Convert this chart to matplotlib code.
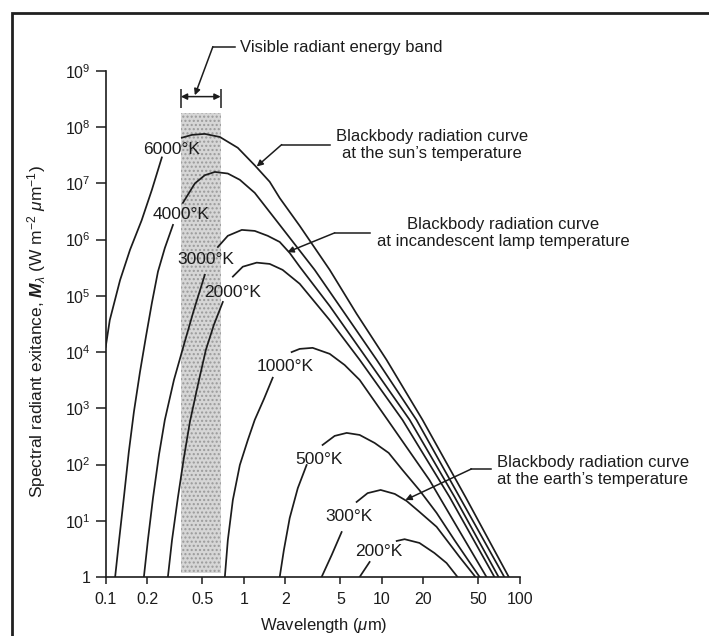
import matplotlib
matplotlib.use("Agg")
import matplotlib.pyplot as plt
from matplotlib.patches import Rectangle
from matplotlib.ticker import NullLocator

plt.rcParams['font.family'] = ['Liberation Sans', 'DejaVu Sans']
plt.rcParams['mathtext.fontset'] = 'custom'
plt.rcParams['mathtext.rm'] = 'Liberation Sans'
plt.rcParams['mathtext.it'] = 'Liberation Sans:italic'
plt.rcParams['mathtext.bf'] = 'Liberation Sans:bold'
plt.rcParams['mathtext.bfit'] = 'Liberation Sans:italic:bold'

# curves (wavelength in um, exitance in W m-2 um-1)
# each curve is split in two where its temperature label cuts it
wl_6000_a = [0.100, 0.107, 0.127, 0.150, 0.182, 0.216, 0.255]
m_6000_a = [1.24e4, 3.7e4, 1.9e5, 6.6e5, 2.2e6, 7.7e6, 2.9e7]
wl_6000_b = [0.356, 0.421, 0.522, 0.671, 0.905, 1.20, 1.54, 1.82, 2.54, 4.19, 6.56, 10.8, 19.7, 40.3, 83.0]
m_6000_b = [6.5e7, 7.3e7, 7.6e7, 6.7e7, 4.3e7, 2.1e7, 1.07e7, 5.5e6, 1.76e6, 2.9e5, 4.8e4, 7.3e3, 622, 26.5, 1]

wl_4000_a = [0.117, 0.125, 0.136, 0.147, 0.160, 0.177, 0.196, 0.216, 0.239, 0.268, 0.307]
m_4000_a = [1, 4.5, 28.8, 168, 863, 4.4e3, 1.94e4, 7.5e4, 2.7e5, 7.1e5, 1.83e6]
wl_4000_b = [0.362, 0.442, 0.522, 0.617, 0.766, 0.936, 1.20, 1.82, 3.26, 5.47, 9.16, 17.8, 36.5, 77.0]
m_4000_b = [4.5e6, 1.0e7, 1.4e7, 1.6e7, 1.5e7, 1.16e7, 6.8e6, 1.83e6, 2.9e5, 4.6e4, 7.3e3, 622, 26.5, 1]

wl_3000_a = [0.189, 0.202, 0.220, 0.243, 0.268, 0.312, 0.368, 0.435, 0.522]
m_3000_a = [1, 4.5, 25.5, 148, 622, 3.2e3, 1.34e4, 5.6e4, 2.37e5]
wl_3000_b = [0.649, 0.766, 0.967, 1.20, 1.49, 1.82, 2.15, 2.54, 4.19, 7.88, 15.9, 33.6, 70.0]
m_3000_b = [7.4e5, 1.17e6, 1.49e6, 1.43e6, 1.17e6, 9.1e5, 5.8e5, 3.3e5, 6.6e4, 7.3e3, 622, 26.5, 1]

wl_2000_a = [0.282, 0.302, 0.333, 0.368, 0.407, 0.465, 0.531, 0.607, 0.705]
m_2000_a = [1, 4.5, 25.5, 131, 573, 2.6e3, 1.09e4, 3.05e4, 7.8e4]
wl_2000_b = [0.833, 0.983, 1.24, 1.54, 1.91, 2.54, 4.19, 6.90, 14.1, 30.9, 65.3]
m_2000_b = [2.2e5, 3.3e5, 3.9e5, 3.7e5, 2.9e5, 1.64e5, 3.7e4, 7.3e3, 622, 26.5, 1]

wl_1000_a = [0.729, 0.766, 0.833, 0.936, 1.07, 1.20, 1.40, 1.62]
m_1000_a = [1, 4.5, 23.4, 98, 274, 622, 1.47e3, 3.5e3]
wl_1000_b = [2.22, 2.54, 3.15, 4.19, 5.37, 6.90, 11.0, 22.1, 57.2]
m_1000_b = [1.0e4, 1.14e4, 1.19e4, 9.3e3, 5.9e3, 3.2e3, 622, 53, 1]

wl_500_a = [1.82, 1.95, 2.15, 2.46, 2.85]
m_500_a = [1, 3.0, 11.2, 38, 98]
wl_500_b = [3.72, 4.55, 5.56, 6.90, 8.86, 11.2, 14.1, 18.7, 24.9, 33.6, 51.0]
m_500_b = [223, 323, 365, 336, 242, 161, 80, 35, 13.8, 4.5, 1]

wl_300_a = [3.66, 4.33, 5.11]
m_300_a = [1, 2.46, 6.3]
wl_300_b = [6.56, 7.88, 9.79, 12.4, 15.1, 18.7, 24.9, 36.5, 47.6]
m_300_b = [21.6, 31, 35.3, 30, 22.5, 14.4, 7.8, 2.27, 1]

wl_200_a = [6.90, 8.15]
m_200_a = [1, 1.85]
wl_200_b = [12.8, 14.6, 18.7, 24.0, 29.4, 35.3]
m_200_b = [4.37, 4.7, 4.03, 2.67, 1.77, 1]

segments = [
    (wl_6000_a, m_6000_a), (wl_6000_b, m_6000_b),
    (wl_4000_a, m_4000_a), (wl_4000_b, m_4000_b),
    (wl_3000_a, m_3000_a), (wl_3000_b, m_3000_b),
    (wl_2000_a, m_2000_a), (wl_2000_b, m_2000_b),
    (wl_1000_a, m_1000_a), (wl_1000_b, m_1000_b),
    (wl_500_a, m_500_a), (wl_500_b, m_500_b),
    (wl_300_a, m_300_a), (wl_300_b, m_300_b),
    (wl_200_a, m_200_a), (wl_200_b, m_200_b),
]

temp_labels = ["6000°K", "4000°K", "3000°K", "2000°K", "1000°K", "500°K", "300°K", "200°K"]
label_wl = [0.302, 0.35, 0.531, 0.833, 1.98, 3.49, 5.74, 9.46]
label_m = [3.96e7, 2.76e6, 4.37e5, 1.13e5, 5.45e3, 121, 11.7, 2.79]

# visible band
band_wl = [0.35, 0.68]
band_lo = 1.17
band_hi = 1.8e8

x_ticks = [0.1, 0.2, 0.5, 1, 2, 5, 10, 20, 50, 100]
x_tick_labels = ["0.1", "0.2", "0.5", "1", "2", "5", "10", "20", "50", "100"]
y_ticks = [1, 1e1, 1e2, 1e3, 1e4, 1e5, 1e6, 1e7, 1e8, 1e9]
y_tick_labels = ["1"] + [r"$10^{%d}$" % k for k in range(1, 10)]

ink = "#1c1c1c"

fig = plt.figure(figsize=(7.09, 6.36), dpi=100)
ax = fig.add_axes([0.1491, 0.0928, 0.5843, 0.7956])
ax.set_xscale('log')
ax.set_yscale('log')
ax.set_xlim(0.1, 100)
ax.set_ylim(1, 1e9)

# stippled band
ax.fill_between(band_wl, band_lo, band_hi, facecolor="#d6d6d6", edgecolor="#9a9a9a",
                hatch="....", linewidth=0, zorder=1)

for wl, m in segments:
    ax.plot(wl, m, color=ink, lw=1.25, zorder=3)

for t, x, y in zip(temp_labels, label_wl, label_m):
    ax.text(x, y, t, ha='center', va='center', fontsize=12.5, color=ink, zorder=4)

# axes styling
ax.set_xticks(x_ticks)
ax.set_xticklabels(x_tick_labels)
ax.set_yticks(y_ticks)
ax.set_yticklabels(y_tick_labels)
ax.xaxis.set_minor_locator(NullLocator())
ax.yaxis.set_minor_locator(NullLocator())
ax.tick_params(axis='x', length=5, width=1.1, pad=6, labelsize=11.5, colors=ink)
ax.tick_params(axis='y', length=7, width=1.1, pad=4, labelsize=11.5, colors=ink)
for s in ['top', 'right']:
    ax.spines[s].set_visible(False)
for s in ['left', 'bottom']:
    ax.spines[s].set_linewidth(1.2)
    ax.spines[s].set_color(ink)

ax.set_xlabel(r"Wavelength ($\mu$m)", fontsize=12, color=ink)
ax.xaxis.set_label_coords(0.527, -0.078)
ax.set_ylabel(r"Spectral radiant exitance, $\mathbfit{M}_\lambda$ (W m$^{-2}$ $\mu$m$^{-1}$)",
              fontsize=12.5, color=ink)
ax.yaxis.set_label_coords(-0.140, 0.484)

# bracket over the visible band
ax.annotate('', xy=(band_wl[0], 3.5e8), xytext=(band_wl[1], 3.5e8),
            arrowprops=dict(arrowstyle='<|-|>', color=ink, lw=1.1, mutation_scale=9,
                            shrinkA=0, shrinkB=0))
ax.vlines(band_wl, 2.2e8, 4.7e8, color=ink, lw=1.1)

arw = dict(arrowstyle='-|>', color=ink, lw=1.1, mutation_scale=9, shrinkA=0, shrinkB=0)

# visible band callout
ax.plot([0.597, 0.861], [2.7e9, 2.7e9], color=ink, lw=1.1, clip_on=False)
ax.annotate('', xy=(0.442, 3.7e8), xytext=(0.597, 2.7e9), arrowprops=arw,
            annotation_clip=False)
ax.text(0.936, 2.6e9, "Visible radiant energy band", fontsize=12, color=ink,
        ha='left', va='center', clip_on=False)

# sun
ax.plot([1.88, 4.19], [4.9e7, 4.9e7], color=ink, lw=1.1)
ax.annotate('', xy=(1.24, 2.0e7), xytext=(1.88, 4.9e7), arrowprops=arw)
ax.text(22.9, 4.9e7, "Blackbody radiation curve\nat the sun\u2019s temperature", fontsize=12,
        color=ink, ha='center', va='center', multialignment='center', linespacing=1.15,
        clip_on=False)

# incandescent lamp
ax.plot([4.55, 8.15], [1.32e6, 1.32e6], color=ink, lw=1.1)
ax.annotate('', xy=(2.07, 6.0e5), xytext=(4.55, 1.32e6), arrowprops=arw)
ax.text(75.9, 1.32e6, "Blackbody radiation curve\nat incandescent lamp temperature",
        fontsize=12, color=ink, ha='center', va='center', multialignment='center',
        linespacing=1.15, clip_on=False)

# earth
ax.plot([44.5, 62.1], [83.5, 83.5], color=ink, lw=1.1)
ax.annotate('', xy=(14.8, 23.4), xytext=(44.5, 83.5), arrowprops=arw)
ax.text(68.7, 76.9, "Blackbody radiation curve\nat the earth\u2019s temperature", fontsize=12,
        color=ink, ha='left', va='center', multialignment='left', linespacing=1.15,
        clip_on=False)

# scanned page frame
frame = Rectangle((12 / 709, -0.1), 1.2, 1 - 13 / 636 + 0.1, transform=fig.transFigure,
                  fill=False, lw=2, edgecolor="#202020")
fig.patches.append(frame)

fig.savefig("out.png", dpi=100)
